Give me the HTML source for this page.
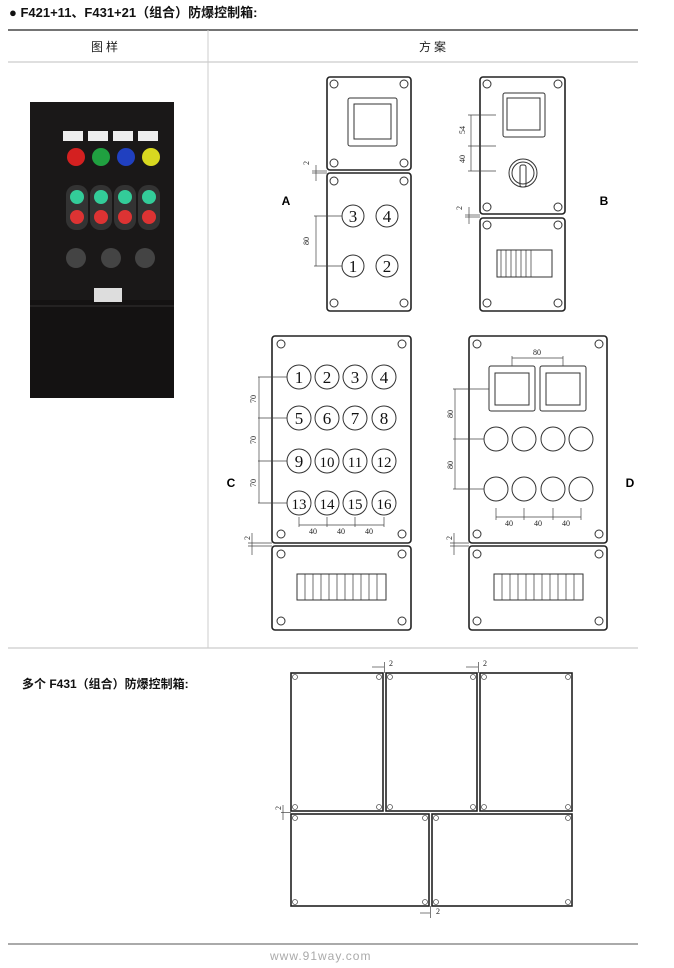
<!DOCTYPE html>
<html><head><meta charset="utf-8"><style>
body{margin:0;background:#fff;width:674px;height:968px;overflow:hidden}
svg{display:block}
text{font-family:"Liberation Sans","Noto Sans CJK SC",sans-serif}
.s{fill:#fff;stroke:#222;stroke-width:1.6}
.t{fill:none;stroke:#333;stroke-width:1}
.d{fill:none;stroke:#444;stroke-width:0.7}
.n, .n text{font-family:"Liberation Serif",serif;text-anchor:middle;fill:#111}
text.n{font-size:17px}
.m{font-family:"Liberation Serif",serif;font-size:8px;fill:#222}
</style></head><body>
<svg width="674" height="968" viewBox="0 0 674 968" xmlns="http://www.w3.org/2000/svg">
<text x="9" y="17" font-size="13" font-weight="bold" fill="#111">● F421+11、F431+21（组合）防爆控制箱:</text>
<line x1="8" y1="30" x2="638" y2="30" stroke="#222" stroke-width="1.2"/>
<text x="106" y="51" font-size="12" text-anchor="middle" fill="#222" letter-spacing="3">图样</text>
<text x="434" y="51" font-size="12" text-anchor="middle" fill="#222" letter-spacing="3">方案</text>
<line x1="8" y1="62" x2="638" y2="62" stroke="#ccc" stroke-width="1.2"/>
<line x1="208" y1="30" x2="208" y2="648" stroke="#ccc" stroke-width="1"/>
<line x1="8" y1="648" x2="638" y2="648" stroke="#ccc" stroke-width="1.2"/>

<!-- photo -->
<rect x="30" y="102" width="144" height="296" fill="#1a1818"/>
<rect x="30" y="300" width="144" height="98" fill="#141212"/>
<line x1="30" y1="306" x2="174" y2="306" stroke="#333"/>
<g fill="#eee"><rect x="63" y="131" width="20" height="10"/><rect x="88" y="131" width="20" height="10"/><rect x="113" y="131" width="20" height="10"/><rect x="138" y="131" width="20" height="10"/></g>
<circle cx="76" cy="157" r="9" fill="#d42020"/><circle cx="101" cy="157" r="9" fill="#20a040"/><circle cx="126" cy="157" r="9" fill="#2040c0"/><circle cx="151" cy="157" r="9" fill="#d8d820"/>
<g fill="#333"><rect x="66" y="185" width="22" height="45" rx="10"/><rect x="90" y="185" width="22" height="45" rx="10"/><rect x="114" y="185" width="22" height="45" rx="10"/><rect x="138" y="185" width="22" height="45" rx="10"/></g>
<g fill="#3c9"><circle cx="77" cy="197" r="7"/><circle cx="101" cy="197" r="7"/><circle cx="125" cy="197" r="7"/><circle cx="149" cy="197" r="7"/></g>
<g fill="#d33"><circle cx="77" cy="217" r="7"/><circle cx="101" cy="217" r="7"/><circle cx="125" cy="217" r="7"/><circle cx="149" cy="217" r="7"/></g>
<g fill="#444"><circle cx="76" cy="258" r="10"/><circle cx="111" cy="258" r="10"/><circle cx="145" cy="258" r="10"/></g>
<rect x="94" y="288" width="28" height="14" fill="#ddd"/>

<!-- A -->
<rect class="s" x="327" y="77" width="84" height="93" rx="3"/>
<rect class="s" x="327" y="173" width="84" height="138" rx="3"/>
<g class="t"><circle cx="334" cy="84" r="4"/><circle cx="404" cy="84" r="4"/><circle cx="334" cy="163" r="4"/><circle cx="404" cy="163" r="4"/>
<circle cx="334" cy="181" r="4"/><circle cx="404" cy="181" r="4"/><circle cx="334" cy="303" r="4"/><circle cx="404" cy="303" r="4"/>
<rect x="348" y="98" width="49" height="48" rx="2"/><rect x="354" y="104" width="37" height="35"/>
<circle cx="353" cy="216" r="11"/><circle cx="387" cy="216" r="11"/><circle cx="353" cy="266" r="11"/><circle cx="387" cy="266" r="11"/></g>
<text class="n" x="353" y="222">3</text><text class="n" x="387" y="222">4</text><text class="n" x="353" y="272">1</text><text class="n" x="387" y="272">2</text>
<g class="d"><line x1="314" y1="216" x2="342" y2="216"/><line x1="314" y1="266" x2="342" y2="266"/><line x1="316" y1="216" x2="316" y2="266"/>
<line x1="316" y1="165" x2="316" y2="181"/><line x1="312" y1="171" x2="327" y2="171"/><line x1="312" y1="173" x2="327" y2="173"/></g>
<text class="m" transform="translate(309,245) rotate(-90)">80</text>
<text class="m" transform="translate(309,165) rotate(-90)">2</text>
<text x="286" y="205" font-size="12" font-weight="bold" text-anchor="middle">A</text>

<!-- B -->
<rect class="s" x="480" y="77" width="85" height="137" rx="3"/>
<rect class="s" x="480" y="218" width="85" height="93" rx="3"/>
<g class="t"><circle cx="487" cy="84" r="4"/><circle cx="558" cy="84" r="4"/><circle cx="487" cy="207" r="4"/><circle cx="558" cy="207" r="4"/>
<circle cx="487" cy="225" r="4"/><circle cx="558" cy="225" r="4"/><circle cx="487" cy="303" r="4"/><circle cx="558" cy="303" r="4"/>
<rect x="503" y="93" width="42" height="44" rx="2"/><rect x="507" y="98" width="33" height="32"/>
<circle cx="523" cy="173" r="14"/><circle cx="523" cy="173" r="11"/><rect x="520" y="165" width="6" height="22" rx="2"/>
<rect x="497" y="250" width="55" height="27"/></g>
<g stroke="#333" stroke-width="0.7"><line x1="501" y1="250" x2="501" y2="277"/><line x1="506" y1="250" x2="506" y2="277"/><line x1="511" y1="250" x2="511" y2="277"/><line x1="516" y1="250" x2="516" y2="277"/><line x1="521" y1="250" x2="521" y2="277"/><line x1="526" y1="250" x2="526" y2="277"/><line x1="531" y1="250" x2="531" y2="277"/></g>
<g class="d"><line x1="468" y1="115" x2="496" y2="115"/><line x1="468" y1="146" x2="496" y2="146"/><line x1="468" y1="171" x2="496" y2="171"/><line x1="471" y1="115" x2="471" y2="171"/>
<line x1="469" y1="207" x2="469" y2="224"/><line x1="465" y1="215" x2="480" y2="215"/><line x1="465" y1="217" x2="480" y2="217"/></g>
<text class="m" transform="translate(465,134) rotate(-90)">54</text><text class="m" transform="translate(465,163) rotate(-90)">40</text>
<text class="m" transform="translate(462,210) rotate(-90)">2</text>
<text x="604" y="205" font-size="12" font-weight="bold" text-anchor="middle">B</text>

<!-- C -->
<rect class="s" x="272" y="336" width="139" height="207" rx="3"/>
<rect class="s" x="272" y="546" width="139" height="84" rx="3"/>
<g class="t"><circle cx="281" cy="344" r="4"/><circle cx="402" cy="344" r="4"/><circle cx="281" cy="534" r="4"/><circle cx="402" cy="534" r="4"/>
<circle cx="281" cy="554" r="4"/><circle cx="402" cy="554" r="4"/><circle cx="281" cy="621" r="4"/><circle cx="402" cy="621" r="4"/>
<rect x="297" y="574" width="89" height="26"/>
<circle cx="299" cy="377" r="12"/><circle cx="327" cy="377" r="12"/><circle cx="355" cy="377" r="12"/><circle cx="384" cy="377" r="12"/>
<circle cx="299" cy="418" r="12"/><circle cx="327" cy="418" r="12"/><circle cx="355" cy="418" r="12"/><circle cx="384" cy="418" r="12"/>
<circle cx="299" cy="461" r="12"/><circle cx="327" cy="461" r="12"/><circle cx="355" cy="461" r="12"/><circle cx="384" cy="461" r="12"/>
<circle cx="299" cy="503" r="12"/><circle cx="327" cy="503" r="12"/><circle cx="355" cy="503" r="12"/><circle cx="384" cy="503" r="12"/></g>
<g stroke="#333" stroke-width="0.7"><line x1="305" y1="574" x2="305" y2="600"/><line x1="313" y1="574" x2="313" y2="600"/><line x1="321" y1="574" x2="321" y2="600"/><line x1="329" y1="574" x2="329" y2="600"/><line x1="337" y1="574" x2="337" y2="600"/><line x1="345" y1="574" x2="345" y2="600"/><line x1="353" y1="574" x2="353" y2="600"/><line x1="361" y1="574" x2="361" y2="600"/><line x1="369" y1="574" x2="369" y2="600"/><line x1="377" y1="574" x2="377" y2="600"/></g>
<g class="n" font-size="17"><text x="299" y="383">1</text><text x="327" y="383">2</text><text x="355" y="383">3</text><text x="384" y="383">4</text>
<text x="299" y="424">5</text><text x="327" y="424">6</text><text x="355" y="424">7</text><text x="384" y="424">8</text>
<text x="299" y="467">9</text><text x="327" y="467" font-size="15">10</text><text x="355" y="467" font-size="15">11</text><text x="384" y="467" font-size="15">12</text>
<text x="299" y="509" font-size="15">13</text><text x="327" y="509" font-size="15">14</text><text x="355" y="509" font-size="15">15</text><text x="384" y="509" font-size="15">16</text></g>
<g class="d"><line x1="258" y1="377" x2="287" y2="377"/><line x1="258" y1="418" x2="287" y2="418"/><line x1="258" y1="461" x2="287" y2="461"/><line x1="258" y1="503" x2="287" y2="503"/><line x1="259" y1="377" x2="259" y2="503"/>
<line x1="299" y1="517" x2="299" y2="527"/><line x1="327" y1="517" x2="327" y2="527"/><line x1="355" y1="517" x2="355" y2="527"/><line x1="384" y1="517" x2="384" y2="527"/><line x1="299" y1="525" x2="384" y2="525"/>
<line x1="252" y1="533" x2="252" y2="555"/><line x1="248" y1="543" x2="272" y2="543"/><line x1="248" y1="546" x2="272" y2="546"/></g>
<text class="m" transform="translate(256,403) rotate(-90)">70</text><text class="m" transform="translate(256,444) rotate(-90)">70</text><text class="m" transform="translate(256,487) rotate(-90)">70</text>
<text class="m" x="309" y="534">40</text><text class="m" x="337" y="534">40</text><text class="m" x="365" y="534">40</text>
<text class="m" transform="translate(250,540) rotate(-90)">2</text>
<text x="231" y="487" font-size="12" font-weight="bold" text-anchor="middle">C</text>

<!-- D -->
<rect class="s" x="469" y="336" width="138" height="207" rx="3"/>
<rect class="s" x="469" y="546" width="138" height="84" rx="3"/>
<g class="t"><circle cx="477" cy="344" r="4"/><circle cx="599" cy="344" r="4"/><circle cx="477" cy="534" r="4"/><circle cx="599" cy="534" r="4"/>
<circle cx="477" cy="554" r="4"/><circle cx="599" cy="554" r="4"/><circle cx="477" cy="621" r="4"/><circle cx="599" cy="621" r="4"/>
<rect x="489" y="366" width="46" height="45" rx="2"/><rect x="495" y="373" width="34" height="32"/>
<rect x="540" y="366" width="46" height="45" rx="2"/><rect x="546" y="373" width="34" height="32"/>
<circle cx="496" cy="439" r="12"/><circle cx="524" cy="439" r="12"/><circle cx="553" cy="439" r="12"/><circle cx="581" cy="439" r="12"/>
<circle cx="496" cy="489" r="12"/><circle cx="524" cy="489" r="12"/><circle cx="553" cy="489" r="12"/><circle cx="581" cy="489" r="12"/>
<rect x="494" y="574" width="89" height="26"/></g>
<g stroke="#333" stroke-width="0.7"><line x1="502" y1="574" x2="502" y2="600"/><line x1="510" y1="574" x2="510" y2="600"/><line x1="518" y1="574" x2="518" y2="600"/><line x1="526" y1="574" x2="526" y2="600"/><line x1="534" y1="574" x2="534" y2="600"/><line x1="542" y1="574" x2="542" y2="600"/><line x1="550" y1="574" x2="550" y2="600"/><line x1="558" y1="574" x2="558" y2="600"/><line x1="566" y1="574" x2="566" y2="600"/><line x1="574" y1="574" x2="574" y2="600"/></g>
<g class="d"><line x1="512" y1="356" x2="512" y2="366"/><line x1="563" y1="356" x2="563" y2="366"/><line x1="512" y1="358" x2="563" y2="358"/>
<line x1="453" y1="389" x2="489" y2="389"/><line x1="453" y1="439" x2="484" y2="439"/><line x1="453" y1="489" x2="484" y2="489"/><line x1="455" y1="389" x2="455" y2="489"/>
<line x1="496" y1="508" x2="496" y2="520"/><line x1="524" y1="508" x2="524" y2="520"/><line x1="553" y1="508" x2="553" y2="520"/><line x1="581" y1="508" x2="581" y2="520"/><line x1="496" y1="517" x2="581" y2="517"/>
<line x1="454" y1="533" x2="454" y2="555"/><line x1="450" y1="543" x2="469" y2="543"/><line x1="450" y1="546" x2="469" y2="546"/></g>
<text class="m" x="533" y="355">80</text>
<text class="m" transform="translate(453,418) rotate(-90)">80</text><text class="m" transform="translate(453,469) rotate(-90)">80</text>
<text class="m" x="505" y="526">40</text><text class="m" x="534" y="526">40</text><text class="m" x="562" y="526">40</text>
<text class="m" transform="translate(452,540) rotate(-90)">2</text>
<text x="630" y="487" font-size="12" font-weight="bold" text-anchor="middle">D</text>

<!-- bottom section -->
<text x="22" y="688" font-size="12" font-weight="bold" fill="#111">多个 F431（组合）防爆控制箱:</text>
<g class="s" stroke-width="1.3">
<rect x="291" y="673" width="92" height="138"/><rect x="386" y="673" width="91" height="138"/><rect x="480" y="673" width="92" height="138"/>
<rect x="291" y="814" width="138" height="92"/><rect x="432" y="814" width="140" height="92"/></g>
<g fill="none" stroke="#555" stroke-width="0.8">
<circle cx="295" cy="677" r="2.5"/><circle cx="379" cy="677" r="2.5"/><circle cx="295" cy="807" r="2.5"/><circle cx="379" cy="807" r="2.5"/>
<circle cx="390" cy="677" r="2.5"/><circle cx="473" cy="677" r="2.5"/><circle cx="390" cy="807" r="2.5"/><circle cx="473" cy="807" r="2.5"/>
<circle cx="484" cy="677" r="2.5"/><circle cx="568" cy="677" r="2.5"/><circle cx="484" cy="807" r="2.5"/><circle cx="568" cy="807" r="2.5"/>
<circle cx="295" cy="818" r="2.5"/><circle cx="425" cy="818" r="2.5"/><circle cx="295" cy="902" r="2.5"/><circle cx="425" cy="902" r="2.5"/>
<circle cx="436" cy="818" r="2.5"/><circle cx="568" cy="818" r="2.5"/><circle cx="436" cy="902" r="2.5"/><circle cx="568" cy="902" r="2.5"/></g>
<g class="d"><line x1="384.5" y1="662" x2="384.5" y2="673"/><line x1="372" y1="667" x2="384" y2="667"/><line x1="478.5" y1="662" x2="478.5" y2="673"/><line x1="466" y1="667" x2="478" y2="667"/>
<line x1="281" y1="812.5" x2="291" y2="812.5"/><line x1="283" y1="805" x2="283" y2="820"/>
<line x1="430.5" y1="906" x2="430.5" y2="918"/><line x1="420" y1="913" x2="430" y2="913"/></g>
<text class="m" x="389" y="666">2</text><text class="m" x="483" y="666">2</text><text class="m" transform="translate(281,810) rotate(-90)">2</text><text class="m" x="436" y="914">2</text>

<line x1="8" y1="944" x2="638" y2="944" stroke="#555" stroke-width="1"/>
<text x="270" y="960" font-size="12" fill="#aaa" font-family="Liberation Mono,monospace" letter-spacing="1">www.91way.com</text>
</svg>
</body></html>
